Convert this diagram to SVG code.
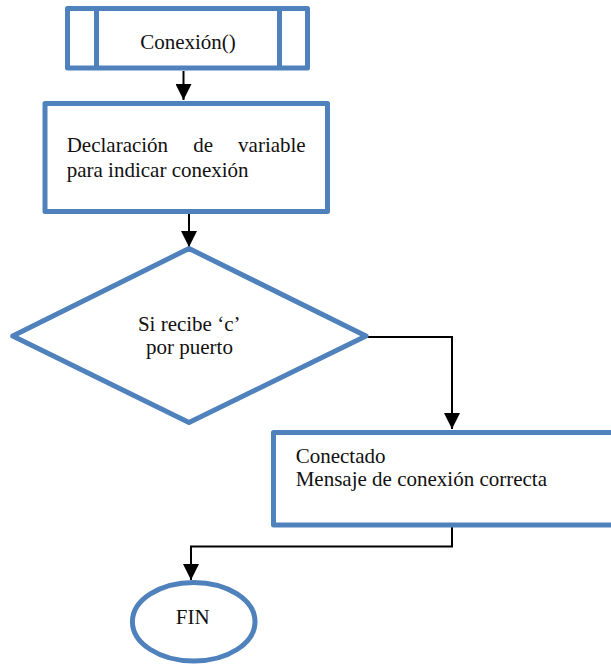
<svg xmlns="http://www.w3.org/2000/svg" width="611" height="666" viewBox="0 0 611 666">
  <style>
    .shape { fill: #ffffff; stroke: #4f81bd; stroke-width: 5; stroke-linejoin: round; }
    .label { font-family: 'Liberation Serif', 'DejaVu Serif', serif; font-size: 21px; fill: #111111; }
    .mid { text-anchor: middle; }
    .link { fill: none; stroke: #000000; stroke-width: 2; }
  </style>
  <defs>
    <marker id="arrow" markerUnits="userSpaceOnUse" markerWidth="18" markerHeight="16" refX="16" refY="8" orient="auto">
      <path d="M0,0 L16,8 L0,16 Z" fill="#000000"/>
    </marker>
  </defs>

  <rect width="611" height="666" fill="#ffffff"/>

  <!-- connectors -->
  <g id="connectors">
    <path class="link" d="M183.5,71 L183.5,100" marker-end="url(#arrow)"/>
    <path class="link" d="M189,214 L189,247" marker-end="url(#arrow)"/>
    <path class="link" d="M366,337 L452,337 L452,429" marker-end="url(#arrow)"/>
    <path class="link" d="M452,527 L452,546.5 L191,546.5 L191,580" marker-end="url(#arrow)"/>
  </g>

  <g font-family="Liberation Serif, DejaVu Serif, serif">
    <!-- subprocess: Conexión() -->
    <g id="node-conexion">
      <rect class="shape" x="67.5" y="8.5" width="240" height="59.5"/>
      <line class="shape" x1="96.5" y1="8.5" x2="96.5" y2="68"/>
      <line class="shape" x1="279.5" y1="8.5" x2="279.5" y2="68"/>
      <text class="label mid" x="188" y="48.5">Conexión()</text>
    </g>

    <!-- process: variable declaration -->
    <g id="node-declaracion">
      <rect class="shape" x="45" y="103.5" width="282.5" height="108"/>
      <text class="label" x="66.7" y="152.3">Declaración</text>
      <text class="label" x="193.3" y="152.3">de</text>
      <text class="label" x="305.7" y="152.3" text-anchor="end">variable</text>
      <text class="label" x="66.7" y="176.5">para indicar conexión</text>
    </g>

    <!-- decision -->
    <g id="node-decision">
      <polygon class="shape" points="189,248.5 366,336 189,422.5 12.7,336"/>
      <text class="label mid" x="189.2" y="330.7">Si recibe ‘c’</text>
      <text class="label mid" x="189.5" y="353.5">por puerto</text>
    </g>

    <!-- process: connected -->
    <g id="node-conectado">
      <rect class="shape" x="273.5" y="432.5" width="380" height="92.5"/>
      <text class="label" x="295.7" y="463.3">Conectado</text>
      <text class="label" x="295.7" y="485.7">Mensaje de conexión correcta</text>
    </g>

    <!-- terminator -->
    <g id="node-fin">
      <ellipse class="shape" cx="193.7" cy="621.7" rx="61.3" ry="39.3"/>
      <text class="label mid" x="192.7" y="624.3">FIN</text>
    </g>
  </g>
</svg>
